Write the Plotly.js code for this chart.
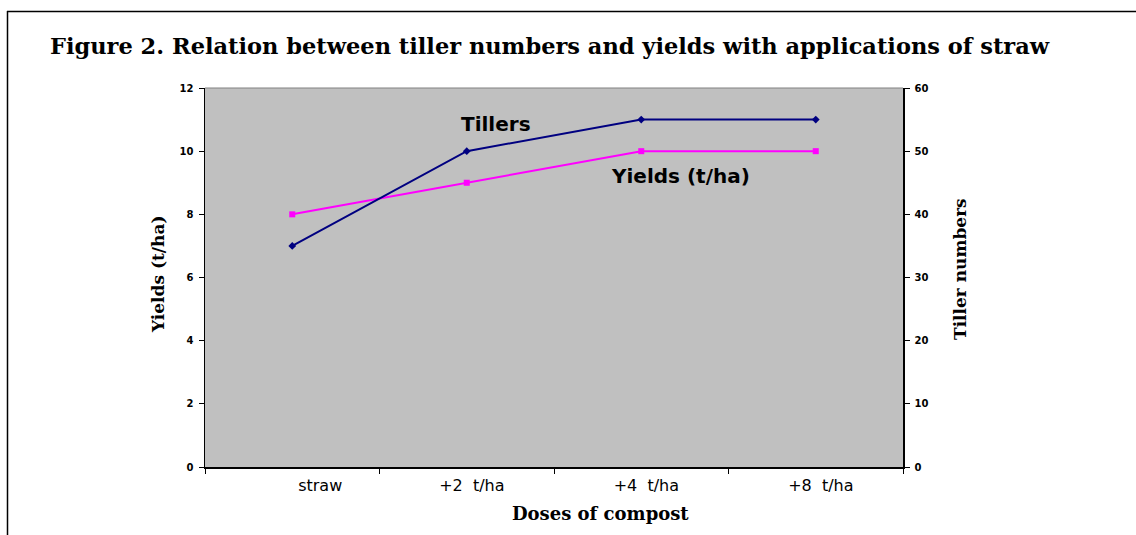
<!DOCTYPE html>
<html><head><meta charset="utf-8">
<script src="https://cdn.plot.ly/plotly-3.0.1.min.js"></script>
<style>html,body{margin:0;padding:0;background:#fff;}#chart{width:1136px;height:535px;}</style>
</head><body><div id="chart"></div>
<script>
const doses = ["straw", "+2 t/ha", "+4 t/ha", "+8 t/ha"];
const doseLabels = ["\u00a0\u00a0\u00a0\u00a0\u00a0\u00a0\u00a0\u00a0\u00a0\u00a0\u00a0straw",
                    "\u00a0\u00a0+2\u00a0\u00a0t/ha", "\u00a0\u00a0+4\u00a0\u00a0t/ha", "\u00a0\u00a0+8\u00a0\u00a0t/ha"];
const yields = [8, 9, 10, 10];
const tillers = [35, 50, 55, 55];
const yieldTicks = [0, 2, 4, 6, 8, 10, 12];
const tillerTicks = [0, 10, 20, 30, 40, 50, 60];

const W = 1136, H = 535;
const L = 205, R = 903, T = 88, B = 467;
const px = x => (x - L) / (R - L);
const py = y => (B - y) / (B - T);

const tickFont = {family: "DejaVu Sans, Arial", size: 10, color: "#000", weight: "bold"};
const serifBold = "DejaVu Serif, Liberation Serif, serif";

const traces = [
  {x: doses, y: yields, type: "scatter", mode: "lines+markers", name: "Yields (t/ha)",
   line: {color: "#FF00FF", width: 2}, marker: {symbol: "square", size: 6, color: "#FF00FF"}, yaxis: "y"},
  {x: doses, y: tillers, type: "scatter", mode: "lines+markers", name: "Tillers",
   line: {color: "#000080", width: 2}, marker: {symbol: "diamond", size: 6, color: "#000080"}, yaxis: "y2"}
];

const layout = {
  width: W, height: H,
  margin: {l: L, r: W - R, t: T, b: H - B, pad: 0},
  paper_bgcolor: "#fff", plot_bgcolor: "#c0c0c0",
  showlegend: false,
  title: {text: "<b>Figure 2. Relation between tiller numbers and yields with applications of straw</b>",
          font: {family: serifBold, size: 22.5, color: "#000"}, x: 50 / W, xanchor: "left", y: 1 - 46 / H, yanchor: "middle"},
  xaxis: {type: "category", range: [-0.5, 3.5], showgrid: false, zeroline: false,
          tickmode: "array", tickvals: doses, ticktext: doseLabels,
          showline: true, linecolor: "#000", linewidth: 1.5, ticks: "outside", tickson: "boundaries", ticklen: 5,
          tickcolor: "#000", tickfont: {family: "DejaVu Sans, Verdana", size: 16, color: "#000"}, ticklabelstandoff: 3},
  yaxis: {range: [0, 12], tickvals: yieldTicks, showgrid: false, zeroline: false,
          showline: true, linecolor: "#000", linewidth: 1.5, ticks: "outside", ticklen: 5, tickcolor: "#000",
          tickfont: tickFont, ticklabelstandoff: 3},
  yaxis2: {range: [0, 60], tickvals: tillerTicks, overlaying: "y", side: "right", showgrid: false, zeroline: false,
          showline: true, linecolor: "#000", linewidth: 1.5, ticks: "outside", ticklen: 5, tickcolor: "#000",
          tickfont: tickFont, ticklabelstandoff: 3},
  shapes: [
    {type: "line", xref: "paper", yref: "paper", x0: 0, x1: 1, y0: 1, y1: 1, line: {color: "#808080", width: 1}},
    {type: "line", xref: "paper", yref: "paper", x0: px(7), x1: px(1136), y0: py(11.5), y1: py(11.5), line: {color: "#000", width: 1.5}},
    {type: "line", xref: "paper", yref: "paper", x0: px(7.5), x1: px(7.5), y0: py(11), y1: py(535), line: {color: "#000", width: 1.5}}
  ],
  annotations: [
    {text: "<b>Doses of compost</b>", xref: "paper", yref: "paper", x: px(600), y: py(513), xanchor: "center", yanchor: "middle",
     showarrow: false, font: {family: serifBold, size: 18, color: "#000"}},
    {text: "<b>Yields (t/ha)</b>", xref: "paper", yref: "paper", x: px(158), y: py(275), xanchor: "center", yanchor: "middle",
     textangle: -90, showarrow: false, font: {family: serifBold, size: 17, color: "#000"}},
    {text: "<b>Tiller numbers</b>", xref: "paper", yref: "paper", x: px(960), y: py(269), xanchor: "center", yanchor: "middle",
     textangle: -90, showarrow: false, font: {family: serifBold, size: 17, color: "#000"}},
    {text: "<b>Tillers</b>", x: "+2 t/ha", y: 10.85, xref: "x", yref: "y", xanchor: "center", yanchor: "middle",
     xshift: 29, showarrow: false, font: {family: "DejaVu Sans, Verdana", size: 20, color: "#000"}},
    {text: "<b>Yields (t/ha)</b>", x: "+4 t/ha", y: 9.2, xref: "x", yref: "y", xanchor: "center", yanchor: "middle",
     xshift: 39, showarrow: false, font: {family: "DejaVu Sans, Verdana", size: 20, color: "#000"}}
  ]
};

Plotly.newPlot("chart", traces, layout, {displayModeBar: false, staticPlot: true});
</script></body></html>
